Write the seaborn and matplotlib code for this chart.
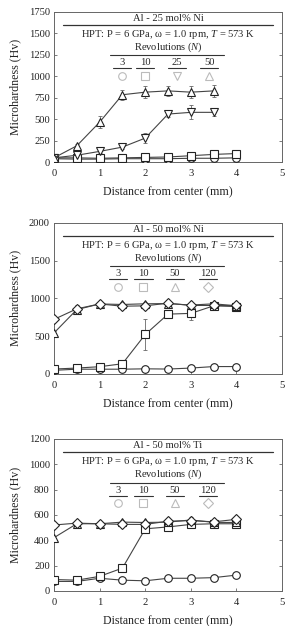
import seaborn as sns
import matplotlib.pyplot as plt
import numpy as np
import pandas as pd

# distance from center (mm)
dist = [0, 0.5, 1.0, 1.5, 2.0, 2.5, 3.0, 3.5, 4.0]
dist7 = [0, 0.5, 1.0, 1.5, 2.0, 2.5, 3.0, 3.5]

# Al - 25 mol% Ni
ni25_n3 = [40, 35, 35, 40, 40, 40, 45, 45, 50]
ni25_n10 = [50, 50, 45, 50, 55, 60, 75, 90, 100]
ni25_n25 = [50, 80, 125, 175, 280, 560, 580, 580]
ni25_n50 = [50, 190, 465, 785, 815, 830, 815, 830]
ni25_n25_err = [10, 15, 20, 25, 60, 30, 80, 40]
ni25_n50_err = [10, 20, 70, 60, 70, 60, 70, 70]

# Al - 50 mol% Ni
ni50_n3 = [45, 60, 60, 60, 65, 62, 75, 95, 95]
ni50_n10 = [62, 75, 93, 132, 520, 790, 800, 900, 890]
ni50_n50 = [540, 850, 925, 918, 927, 930, 910, 927, 900]
ni50_n120 = [720, 860, 925, 895, 900, 935, 905, 905, 905]
ni50_n10_err = [10, 15, 20, 30, 200, 40, 90, 30, 30]
ni50_n50_err = [30, 60, 30, 30, 30, 30, 30, 30, 30]

# Al - 50 mol% Ti
ti50_n3 = [75, 75, 100, 85, 80, 100, 100, 105, 125]
ti50_n10 = [90, 85, 115, 180, 490, 505, 525, 530, 530]
ti50_n50 = [420, 530, 530, 543, 540, 543, 560, 541, 540]
ti50_n120 = [520, 535, 530, 525, 525, 550, 555, 545, 565]
ti50_n10_err = [10, 10, 15, 30, 30, 20, 25, 15, 15]
ti50_n50_err = [15, 15, 15, 15, 15, 15, 25, 15, 15]

sns.set_style("ticks")
plt.rcParams['font.family'] = ['Liberation Serif', 'DejaVu Serif']
plt.rcParams['mathtext.fontset'] = 'custom'
plt.rcParams['mathtext.rm'] = 'Liberation Serif'
plt.rcParams['mathtext.it'] = 'Liberation Serif:italic'

fig = plt.figure(figsize=(2.87, 6.26), dpi=100)
rects = [[0.188, 0.741, 0.795, 0.240],
         [0.188, 0.403, 0.795, 0.241],
         [0.188, 0.056, 0.795, 0.243]]

panels = [
    dict(title="Al - 25 mol% Ni", ymax=1750, ystep=250,
         series=[("3", "o", dist, ni25_n3, None),
                 ("10", "s", dist, ni25_n10, None),
                 ("25", "v", dist7, ni25_n25, ni25_n25_err),
                 ("50", "^", dist7, ni25_n50, ni25_n50_err)],
         legx=[1.49, 2.0, 2.69, 3.4]),
    dict(title="Al - 50 mol% Ni", ymax=2000, ystep=500,
         series=[("3", "o", dist, ni50_n3, None),
                 ("10", "s", dist, ni50_n10, ni50_n10_err),
                 ("50", "^", dist, ni50_n50, ni50_n50_err),
                 ("120", "D", dist, ni50_n120, None)],
         legx=[1.4, 1.96, 2.65, 3.38]),
    dict(title="Al - 50 mol% Ti", ymax=1200, ystep=200,
         series=[("3", "o", dist, ti50_n3, None),
                 ("10", "s", dist, ti50_n10, ti50_n10_err),
                 ("50", "^", dist, ti50_n50, ti50_n50_err),
                 ("120", "D", dist, ti50_n120, None)],
         legx=[1.4, 1.96, 2.65, 3.38]),
]

fs = 7.6
frame = "#666666"
for rect, p in zip(rects, panels):
    ax = fig.add_axes(rect)
    for lab, mk, xs, ys, err in p["series"]:
        df = pd.DataFrame({"x": xs, "y": ys})
        if err is not None:
            ax.errorbar(xs, ys, yerr=err, fmt="none", ecolor="#666666",
                        elinewidth=0.6, capsize=1.5, capthick=0.6, zorder=2)
        ms = 5.0 if mk == "D" else 5.5
        sns.lineplot(data=df, x="x", y="y", ax=ax, color="#444444", lw=0.8,
                     marker=mk, markersize=ms, markerfacecolor="white",
                     markeredgecolor="#222222", markeredgewidth=0.8, zorder=3)
    ax.set_xlim(0, 5)
    ax.set_ylim(0, p["ymax"])
    ax.set_xticks(range(6))
    ax.set_yticks(np.arange(0, p["ymax"] + 1, p["ystep"]))
    ax.tick_params(direction="in", top=False, right=True, labelsize=fs,
                   length=2.5, width=0.6, color=frame, labelcolor="#222222")
    ax.tick_params(axis="x", pad=5)
    ax.tick_params(axis="y", pad=3)
    for s in ax.spines.values():
        s.set_linewidth(0.7)
        s.set_color(frame)
    ax.set_xlabel("Distance from center (mm)", fontsize=8.6, labelpad=6, color="#222222")
    ax.set_ylabel("Microhardness (Hv)", fontsize=8.6, labelpad=5, color="#222222")

    tr = ax.get_xaxis_transform()
    ax.text(2.5, 0.955, p["title"], transform=tr, ha="center", va="center", fontsize=fs)
    ax.plot([0.2, 4.8], [0.915, 0.915], transform=tr, color="#333333", lw=0.9)
    ax.text(2.5, 0.85, "HPT: P = 6 GPa, \u03c9 = 1.0 rpm, $T$ = 573 K", transform=tr,
            ha="center", va="center", fontsize=fs)
    ax.text(2.5, 0.765, "Revolutions ($N$)", transform=tr, ha="center", va="center", fontsize=fs)
    ax.plot([1.23, 3.73], [0.712, 0.712], transform=tr, color="#333333", lw=0.8)
    for lx, (lab, mk, xs, ys, err) in zip(p["legx"], p["series"]):
        ax.text(lx, 0.662, lab, transform=tr, ha="center", va="center", fontsize=fs)
        ax.plot([lx - 0.2, lx + 0.2], [0.626, 0.626], transform=tr, color="#333333", lw=0.8)
        ax.plot([lx], [0.575], transform=tr, marker=mk, ms=5.0 if mk == "D" else 5.5,
                mfc="white", mec="#bbbbbb", mew=0.8, ls="none")

fig.savefig("out.png", dpi=100)
